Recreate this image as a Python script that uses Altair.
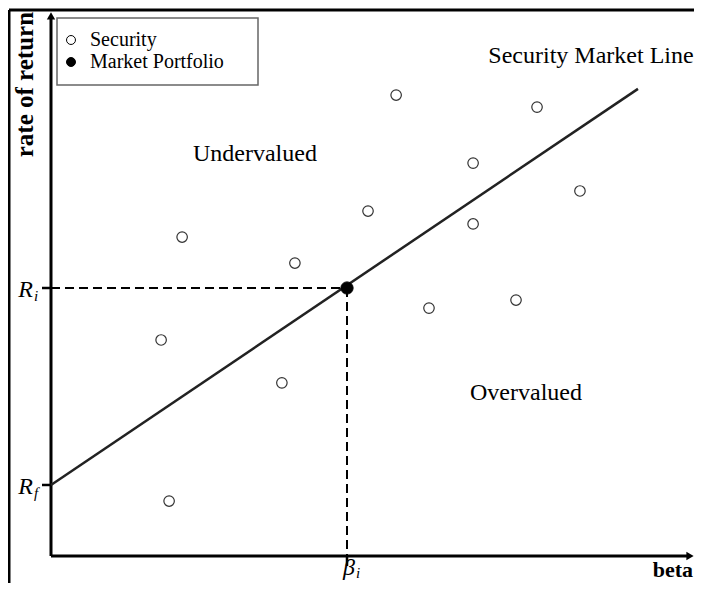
import altair as alt
import pandas as pd

# ---- data (beta, rate of return) ----
sec_beta = [0.443, 0.824, 0.372, 0.780, 0.399, 1.166, 1.071, 1.426, 1.642, 1.787, 1.426, 1.277, 1.571]
sec_ret = [11.90, 10.93, 8.06, 6.46, 2.05, 17.20, 12.87, 14.66, 16.75, 13.62, 12.39, 9.25, 9.55]
mkt_beta = [1.0]
mkt_ret = [10.0]
risk_free = 2.65
sml_beta = [0.0, 1.983]
sml_ret = [2.65, 17.43]
kinds = ["Security", "Market Portfolio"]

XMIN, XMAX = -0.14527, 2.17230
YMIN, YMAX = -1.00746, 20.4478
FONT = "Liberation Serif"

xs = alt.Scale(domain=[XMIN, XMAX], nice=False, zero=False)
ys = alt.Scale(domain=[YMIN, YMAX], nice=False, zero=False)
X = alt.X("b:Q", scale=xs, axis=None)
Y = alt.Y("r:Q", scale=ys, axis=None)


def seg_layer(df, **mk):
    return alt.Chart(df).mark_rule(**mk).encode(x=X, y=Y, x2="b2:Q", y2="r2:Q")


def text_layer(df, **mk):
    return alt.Chart(df).mark_text(**mk).encode(x=X, y=Y, text="t:N")


# figure frame (top and left edges)
FL = -0.1419
frame = pd.DataFrame({"b": [FL, FL], "r": [20.373, YMIN],
                      "b2": [XMAX, FL], "r2": [20.373, 20.373]})
# axes
axes = pd.DataFrame({"b": [0, 0], "r": [0, 0], "b2": [0, 2.150], "r2": [20.1, 0]})
# ticks at Rf, Ri and beta_i
ticks = pd.DataFrame({"b": [-0.0304, -0.0304, mkt_beta[0]],
                      "r": [risk_free, mkt_ret[0], 0],
                      "b2": [0, 0, mkt_beta[0]],
                      "r2": [risk_free, mkt_ret[0], -0.373]})
# dashed guides to the market portfolio
guides = pd.DataFrame({"b": [0, mkt_beta[0]], "r": [mkt_ret[0], mkt_ret[0]],
                       "b2": [mkt_beta[0], mkt_beta[0]], "r2": [mkt_ret[0], 0]})

sml = pd.DataFrame({"b": sml_beta, "r": sml_ret})

sec = pd.DataFrame({"b": sec_beta, "r": sec_ret, "kind": [kinds[0]] * len(sec_beta)})
mkt = pd.DataFrame({"b": mkt_beta, "r": mkt_ret, "kind": [kinds[1]] * len(mkt_beta)})

arrow_up = pd.DataFrame({"b": [0.0], "r": [20.15]})
arrow_right = pd.DataFrame({"b": [2.1588], "r": [0.0]})

frame_l = seg_layer(frame, color="black", strokeWidth=3)
axes_l = seg_layer(axes, color="black", strokeWidth=3)
ticks_l = seg_layer(ticks, color="black", strokeWidth=2.5)
guides_l = seg_layer(guides, color="black", strokeWidth=2, strokeDash=[9, 5])

sml_l = alt.Chart(sml).mark_line(color="#222", strokeWidth=2.5).encode(x=X, y=Y)

up_l = alt.Chart(arrow_up).mark_point(shape="triangle-up", filled=True, color="black",
                                      size=70, opacity=1).encode(x=X, y=Y)
right_l = alt.Chart(arrow_right).mark_point(shape="triangle-right", filled=True, color="black",
                                            size=70, opacity=1).encode(x=X, y=Y)

# legend frame
legend_box = alt.Chart(pd.DataFrame({"k": [0]})).mark_rect(
    fill="white", stroke="#666", strokeWidth=1.5).encode(
    x=alt.value(49), x2=alt.value(250), y=alt.value(10), y2=alt.value(77))

fill_scale = alt.Scale(domain=kinds, range=["white", "black"])
legend = alt.Legend(title=None, orient="none", legendX=47, legendY=16,
                    padding=6,
                    symbolType="circle", symbolSize=80,
                    symbolStrokeColor="black", symbolStrokeWidth=1,
                    labelFont=FONT, labelFontSize=20, labelColor="black",
                    labelOffset=9, rowPadding=2)

sec_l = alt.Chart(sec).mark_point(shape="circle", stroke="#333", strokeWidth=1.2, size=110,
                                  opacity=1, fillOpacity=1).encode(
    x=X, y=Y, fill=alt.Fill("kind:N", scale=fill_scale, legend=legend))
mkt_l = alt.Chart(mkt).mark_point(shape="circle", stroke="black", strokeWidth=1, size=150,
                                  opacity=1, fillOpacity=1).encode(
    x=X, y=Y, fill=alt.Fill("kind:N", scale=fill_scale, legend=legend))

notes = pd.DataFrame({"b": [1.8243, 0.689, 1.6047], "r": [18.39, 14.74, 5.82],
                      "t": ["Security Market Line", "Undervalued", "Overvalued"]})
notes_l = text_layer(notes, font=FONT, fontSize=24, color="black", align="center",
                     baseline="alphabetic")

rlab = pd.DataFrame({"b": [-0.0608, -0.0608], "r": [mkt_ret[0] - 0.336, risk_free - 0.336],
                     "t": ["R", "R"]})
rlab_l = text_layer(rlab, font=FONT, fontSize=24, fontStyle="italic", color="black",
                    align="right", baseline="alphabetic")
rsub = pd.DataFrame({"b": [-0.0574, -0.0574], "r": [mkt_ret[0] - 0.485, risk_free - 0.485],
                     "t": ["i", "f"]})
rsub_l = text_layer(rsub, font=FONT, fontSize=15, fontStyle="italic", color="black",
                    align="left", baseline="alphabetic")

blab = pd.DataFrame({"b": [mkt_beta[0] + 0.027], "r": [-0.71], "t": ["β"]})
blab_l = text_layer(blab, font=FONT, fontSize=24, fontStyle="italic", color="black",
                    align="right", baseline="alphabetic")
bsub = pd.DataFrame({"b": [mkt_beta[0] + 0.030], "r": [-0.82], "t": ["i"]})
bsub_l = text_layer(bsub, font=FONT, fontSize=15, fontStyle="italic", color="black",
                    align="left", baseline="alphabetic")

ytitle = pd.DataFrame({"b": [-0.0878], "r": [20.30], "t": ["rate of return"]})
ytitle_l = text_layer(ytitle, font=FONT, fontSize=25, fontWeight="bold", color="black",
                      align="right", baseline="middle", angle=270)
xtitle = pd.DataFrame({"b": [2.1690], "r": [-0.78], "t": ["beta"]})
xtitle_l = text_layer(xtitle, font=FONT, fontSize=22, fontWeight="bold", color="black",
                      align="right", baseline="alphabetic")

chart = alt.layer(
    frame_l, guides_l, axes_l, ticks_l, up_l, right_l, sml_l, legend_box, sec_l, mkt_l,
    notes_l, rlab_l, rsub_l, blab_l, bsub_l, ytitle_l, xtitle_l,
).properties(
    width=686, height=575,
    autosize=alt.AutoSizeParams(type="none"),
    padding=0,
).configure_view(stroke=None)

chart.save("out.html", embed_options={"renderer": "svg", "actions": False})
